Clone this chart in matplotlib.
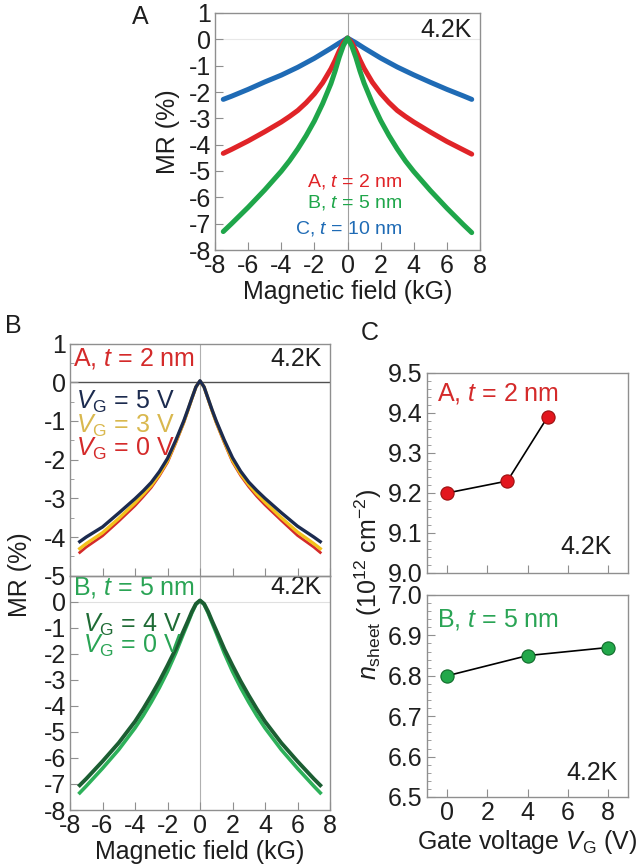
import numpy as np
import matplotlib
matplotlib.use('Agg')
import matplotlib.pyplot as plt
from matplotlib.ticker import MultipleLocator, FormatStrFormatter

plt.rcParams['font.family'] = ['Liberation Sans', 'DejaVu Sans']
plt.rcParams['mathtext.fontset'] = 'custom'
plt.rcParams['mathtext.rm'] = 'Liberation Sans'
plt.rcParams['mathtext.it'] = 'Liberation Sans:italic'
plt.rcParams['axes.unicode_minus'] = False

# Panel A: MR vs field for three samples
field_a = [-7.5, -7, -6, -5, -4, -3.5, -3, -2.5, -2, -1.5, -1, -0.75, -0.5, -0.25, 0,
           0.25, 0.5, 0.75, 1, 1.5, 2, 2.5, 3, 3.5, 4, 5, 6, 7, 7.5]
mr_a_2nm = [-4.33, -4.18, -3.86, -3.51, -3.14, -2.93, -2.7, -2.41, -2.07, -1.65, -1.12, -0.8, -0.44, -0.13, 0.05,
            -0.12, -0.42, -0.78, -1.1, -1.63, -2.05, -2.4, -2.7, -2.93, -3.14, -3.52, -3.88, -4.2, -4.36]
mr_a_5nm = [-7.3, -7.0, -6.38, -5.72, -5.01, -4.61, -4.16, -3.66, -3.1, -2.44, -1.68, -1.21, -0.68, -0.24, 0.05,
            -0.24, -0.68, -1.2, -1.66, -2.42, -3.08, -3.65, -4.16, -4.62, -5.02, -5.74, -6.41, -7.04, -7.34]
mr_a_10nm = [-2.28, -2.16, -1.9, -1.62, -1.36, -1.21, -1.06, -0.89, -0.72, -0.53, -0.34, -0.24, -0.14, -0.05, 0.05,
             -0.04, -0.13, -0.23, -0.33, -0.52, -0.71, -0.88, -1.05, -1.2, -1.35, -1.63, -1.9, -2.15, -2.28]

# Panel B: gate dependence of MR
field_b = [-7.4, -7, -6, -5, -4, -3.5, -3, -2.5, -2, -1.5, -1, -0.75, -0.5, -0.25, 0,
           0.25, 0.5, 0.75, 1, 1.5, 2, 2.5, 3, 3.5, 4, 5, 6, 7, 7.4]
mr_b_5v = [-4.12, -4.0, -3.74, -3.38, -3.01, -2.81, -2.59, -2.31, -1.97, -1.51, -1.0, -0.71, -0.41, -0.12, 0.04,
           -0.12, -0.42, -0.72, -1.0, -1.5, -1.95, -2.3, -2.58, -2.8, -3.0, -3.37, -3.72, -4.0, -4.12]
mr_b_3v = [-4.3, -4.17, -3.89, -3.52, -3.12, -2.9, -2.67, -2.38, -2.03, -1.55, -1.03, -0.73, -0.42, -0.12, 0.03,
           -0.12, -0.43, -0.74, -1.03, -1.54, -2.02, -2.37, -2.65, -2.89, -3.1, -3.5, -3.87, -4.17, -4.3]
mr_b_0v = [-4.4, -4.26, -3.97, -3.59, -3.19, -2.96, -2.72, -2.42, -2.07, -1.58, -1.05, -0.74, -0.43, -0.12, 0.03,
           -0.12, -0.44, -0.75, -1.05, -1.57, -2.06, -2.41, -2.7, -2.95, -3.17, -3.57, -3.96, -4.26, -4.4]
mr_b5_4v = [-7.05, -6.8, -6.13, -5.42, -4.6, -4.12, -3.6, -3.05, -2.45, -1.82, -1.1, -0.75, -0.38, -0.08, 0.05,
            -0.08, -0.38, -0.75, -1.1, -1.82, -2.45, -3.05, -3.6, -4.12, -4.6, -5.42, -6.13, -6.8, -7.05]
mr_b5_0v = [-7.34, -7.08, -6.4, -5.68, -4.85, -4.38, -3.86, -3.3, -2.68, -1.98, -1.2, -0.82, -0.43, -0.1, 0.04,
            -0.1, -0.43, -0.82, -1.2, -1.98, -2.68, -3.3, -3.86, -4.38, -4.85, -5.68, -6.4, -7.08, -7.34]

# Panel C: sheet carrier density vs gate voltage
vg_2nm = [0, 3, 5]
n_2nm = [9.20, 9.23, 9.39]
vg_5nm = [0, 4, 8]
n_5nm = [6.80, 6.85, 6.87]

W, H = 644, 866
fig = plt.figure(figsize=(W / 100, H / 100), dpi=100)

def box(l, t, r, b):
    return [l / W, 1 - b / H, (r - l) / W, (b - t) / H]

SPINE = '#8f8f8f'
TXT = '#1e1e1e'
FS = 18

def style(ax, labelbottom=True):
    for s in ax.spines.values():
        s.set_color(SPINE)
        s.set_linewidth(1.0)
    ax.tick_params(which='both', direction='in', color=SPINE, labelcolor=TXT,
                   labelsize=FS, pad=3, top=False, right=False)
    ax.tick_params(which='major', length=6)
    ax.tick_params(which='minor', length=3)
    ax.tick_params(axis='x', labelbottom=labelbottom)

# ---- Panel A
axA = fig.add_axes(box(215, 13, 480, 250))
axA.axvline(0, color='#a0a0a0', lw=0.8, zorder=0)
axA.axhline(0, color='#e8e8e8', lw=0.8, zorder=0)
axA.plot(field_a, mr_a_10nm, color='#1f6bb5', lw=3.6, solid_capstyle='round', solid_joinstyle='round')
axA.plot(field_a, mr_a_2nm, color='#e02428', lw=3.6, solid_capstyle='round', solid_joinstyle='round')
axA.plot(field_a, mr_a_5nm, color='#1fa64a', lw=3.6, solid_capstyle='round', solid_joinstyle='round')
axA.set_xlim(-8, 8)
axA.set_ylim(-8, 1)
axA.xaxis.set_major_locator(MultipleLocator(2))
axA.yaxis.set_major_locator(MultipleLocator(1))
style(axA)
axA.set_xlabel('Magnetic field (kG)', fontsize=FS, color=TXT, labelpad=1)
axA.set_ylabel('MR (%)', fontsize=FS, color=TXT, labelpad=6)
axA.text(0.97, 0.93, '4.2K', transform=axA.transAxes, ha='right', va='center', fontsize=FS, color=TXT)
axA.text(3.35, -5.4, r'A, $t$ = 2 nm', ha='right', va='center', fontsize=14, color='#e02428')
axA.text(3.35, -6.2, r'B, $t$ = 5 nm', ha='right', va='center', fontsize=14, color='#1fa64a')
axA.text(3.35, -7.2, r'C, $t$ = 10 nm', ha='right', va='center', fontsize=14, color='#1f6bb5')
fig.text(140 / W, 1 - 17 / H, 'A', fontsize=FS, color=TXT, ha='center', va='center')

# ---- Panel B (bottom: 5 nm), added first so the top panel's -5 label stays on top
axB2 = fig.add_axes(box(70, 575.7, 330, 810))
axB2.axvline(0, color='#b0b0b0', lw=0.8, zorder=0)
axB2.axhline(0, color='#e0e0e0', lw=0.8, zorder=0)
axB2.plot(field_b, mr_b5_0v, color='#2db15a', lw=2.6)
axB2.plot(field_b, mr_b5_4v, color='#1b5e32', lw=2.8)
axB2.set_xlim(-8, 8)
axB2.set_ylim(-8, 1)
axB2.xaxis.set_major_locator(MultipleLocator(2))
axB2.set_yticks(range(-8, 1))
style(axB2)
axB2.set_xlabel('Magnetic field (kG)', fontsize=FS, color=TXT, labelpad=1)
axB2.text(0.01, 0.95, r'B, $t$ = 5 nm', transform=axB2.transAxes, ha='left', va='center',
          fontsize=FS, color='#2aa455')
axB2.text(0.97, 0.95, '4.2K', transform=axB2.transAxes, ha='right', va='center', fontsize=FS, color=TXT)
axB2.text(0.05, 0.79, r'$V_\mathrm{G}$ = 4 V', transform=axB2.transAxes, ha='left', va='center',
          fontsize=FS, color='#1f6b35')
axB2.text(0.05, 0.70, r'$V_\mathrm{G}$ = 0 V', transform=axB2.transAxes, ha='left', va='center',
          fontsize=FS, color='#2aa455')

# ---- Panel B (top: 2 nm)
axB1 = fig.add_axes(box(70, 343.6, 330, 575.7))
axB1.axvline(0, color='#b0b0b0', lw=0.8, zorder=0)
axB1.axhline(0, color='#505050', lw=1.0, zorder=0)
axB1.plot(field_b, mr_b_0v, color='#d42a2a', lw=2.0)
axB1.plot(field_b, mr_b_3v, color='#f3c21b', lw=2.4)
axB1.plot(field_b, mr_b_5v, color='#1c2b4f', lw=2.4)
axB1.set_xlim(-8, 8)
axB1.set_ylim(-5, 1)
axB1.xaxis.set_major_locator(MultipleLocator(2))
axB1.set_yticks(range(-5, 2))
axB1.yaxis.set_minor_locator(MultipleLocator(0.5))
style(axB1, labelbottom=False)
axB1.patch.set_alpha(0)
axB1.text(0.01, 0.935, r'A, $t$ = 2 nm', transform=axB1.transAxes, ha='left', va='center',
          fontsize=FS, color='#d42a2a')
axB1.text(0.97, 0.935, '4.2K', transform=axB1.transAxes, ha='right', va='center', fontsize=FS, color=TXT)
axB1.text(0.025, 0.75, r'$V_\mathrm{G}$ = 5 V', transform=axB1.transAxes, ha='left', va='center',
          fontsize=FS, color='#1c2b4f')
axB1.text(0.025, 0.645, r'$V_\mathrm{G}$ = 3 V', transform=axB1.transAxes, ha='left', va='center',
          fontsize=FS, color='#d9b84e')
axB1.text(0.025, 0.545, r'$V_\mathrm{G}$ = 0 V', transform=axB1.transAxes, ha='left', va='center',
          fontsize=FS, color='#d42a2a')
fig.text(20 / W, 1 - 575 / H, 'MR (%)', rotation=90, fontsize=FS, color=TXT, ha='center', va='center')
fig.text(13 / W, 1 - 326 / H, 'B', fontsize=FS, color=TXT, ha='center', va='center')

# ---- Panel C
axC1 = fig.add_axes(box(427, 373, 628, 573))
axC1.plot(vg_2nm, n_2nm, color='black', lw=1.2, marker='o', ms=9.5,
          mfc='#e3161e', mec='#9a1010', mew=0.8)
axC1.set_xlim(-1, 9)
axC1.set_ylim(9.0, 9.5)
axC1.xaxis.set_major_locator(MultipleLocator(2))
axC1.yaxis.set_major_locator(MultipleLocator(0.1))
axC1.yaxis.set_minor_locator(MultipleLocator(0.02))
axC1.yaxis.set_major_formatter(FormatStrFormatter('%.1f'))
style(axC1, labelbottom=False)
axC1.text(0.05, 0.9, r'A, $t$ = 2 nm', transform=axC1.transAxes, ha='left', va='center',
          fontsize=FS, color='#d42a2a')
axC1.text(0.92, 0.13, '4.2K', transform=axC1.transAxes, ha='right', va='center', fontsize=FS, color=TXT)

axC2 = fig.add_axes(box(427, 595, 628, 797))
axC2.plot(vg_5nm, n_5nm, color='black', lw=1.2, marker='o', ms=9.5,
          mfc='#22a84a', mec='#106a2a', mew=0.8)
axC2.set_xlim(-1, 9)
axC2.set_ylim(6.5, 7.0)
axC2.xaxis.set_major_locator(MultipleLocator(2))
axC2.yaxis.set_major_locator(MultipleLocator(0.1))
axC2.yaxis.set_minor_locator(MultipleLocator(0.02))
axC2.yaxis.set_major_formatter(FormatStrFormatter('%.1f'))
style(axC2)
axC2.set_xlabel(r'Gate voltage $V_\mathrm{G}$ (V)', fontsize=FS, color=TXT, labelpad=2)
axC2.text(0.05, 0.88, r'B, $t$ = 5 nm', transform=axC2.transAxes, ha='left', va='center',
          fontsize=FS, color='#2aa455')
axC2.text(0.95, 0.12, '4.2K', transform=axC2.transAxes, ha='right', va='center', fontsize=FS, color=TXT)
fig.text(368 / W, 1 - 585 / H, r'$n_\mathrm{sheet}$ (10$^{12}$ cm$^{-2}$)', rotation=90,
         fontsize=FS, color=TXT, ha='center', va='center')
fig.text(370 / W, 1 - 333 / H, 'C', fontsize=FS, color=TXT, ha='center', va='center')

fig.savefig('out.png', dpi=100)
